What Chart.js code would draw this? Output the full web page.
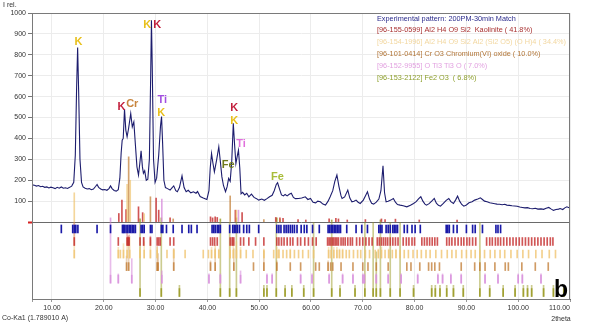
<!DOCTYPE html>
<html><head><meta charset="utf-8">
<script src="https://cdn.jsdelivr.net/npm/chart.js@4/dist/chart.umd.min.js"></script>
<style>html,body{margin:0;padding:0;background:#fff;}#wrap{width:589px;height:326px;position:relative;}</style>
</head><body><div id="wrap"><canvas id="c" width="589" height="326"></canvas></div>
<script>
// ---- Experimental pattern ----
const twoTheta = [6.15,6.6,7.0,7.4,7.8,8.2,8.6,9.0,9.4,9.8,10.2,10.6,11.0,11.4,11.8,12.2,12.6,13.0,13.4,13.8,14.2,14.5,14.75,14.95,15.15,15.4,15.7,16.0,16.4,16.8,17.2,17.6,18.0,18.4,18.7,19.0,19.4,19.8,20.2,20.6,21.0,21.3,21.6,22.0,22.4,22.8,23.1,23.35,23.55,23.75,24.0,24.25,24.5,24.8,25.2,25.5,25.8,26.1,26.4,26.7,26.95,27.2,27.45,27.65,27.9,28.2,28.5,28.8,29.05,29.2,29.35,29.6,29.9,30.2,30.6,30.95,31.15,31.35,31.6,31.9,32.3,32.8,33.2,33.5,33.9,34.2,34.6,35.1,35.5,35.9,36.3,36.8,37.3,37.8,38.1,38.6,39.2,39.9,40.3,40.55,40.8,41.05,41.35,41.8,42.2,42.5,42.8,43.1,43.5,43.8,44.1,44.4,44.7,45.0,45.25,45.5,45.8,46.0,46.25,46.5,46.8,47.2,47.6,48.0,48.5,49.0,49.5,49.9,50.5,51.0,51.5,52.0,52.5,52.9,53.3,53.55,53.9,54.3,54.7,55.0,55.4,55.8,56.2,56.6,57.0,57.6,58.2,58.9,59.4,59.9,60.4,60.9,61.3,61.8,62.3,62.8,63.3,63.7,64.2,64.6,65.0,65.4,65.8,66.0,66.5,67.1,67.5,67.9,68.3,68.7,69.1,69.5,70.1,70.5,70.9,71.3,71.7,72.1,72.6,73.1,73.5,73.9,74.2,74.5,74.9,75.4,75.9,76.3,76.7,77.2,77.8,78.5,79.2,79.8,80.3,80.8,81.2,81.6,82.0,82.3,82.8,83.3,83.8,84.2,84.6,85.0,85.5,86.1,86.6,87.0,87.5,87.9,88.3,88.7,89.1,89.5,90.0,90.5,91.1,91.6,92.2,92.7,93.1,93.5,94.0,94.5,95.0,95.5,95.9,96.4,96.9,97.4,97.8,98.3,98.8,99.3,99.8,100.3,100.8,101.3,101.8,102.3,102.8,103.3,103.8,104.4,104.9,105.4,105.9,106.4,106.8,107.3,107.8,108.1,108.6,109.0,109.4,109.8,110.0];
const intensity = [178,176,172,175,169,171,166,168,163,167,164,160,166,162,168,162,164,161,166,172,190,320,640,835,620,300,190,168,162,158,160,155,158,170,180,166,158,154,156,152,160,173,160,151,148,155,210,330,392,400,540,440,408,450,519,455,479,370,264,225,280,341,265,233,245,200,205,300,700,965,750,300,190,210,320,460,505,380,200,165,160,153,165,173,150,145,165,221,165,145,152,140,145,138,146,122,115,108,150,260,328,285,240,300,360,290,216,175,145,168,209,195,290,472,370,280,320,344,260,135,142,130,138,121,134,118,112,105,110,104,112,121,128,150,180,188,160,130,125,132,125,133,138,118,112,113,115,121,108,113,95,92,100,97,86,81,100,121,150,195,225,170,125,113,120,153,115,97,100,105,95,89,105,125,145,110,90,86,95,110,150,269,140,97,100,105,113,95,84,81,78,73,80,89,98,112,121,100,86,81,88,100,113,90,80,76,88,104,113,98,89,105,124,100,84,76,82,92,97,105,110,116,108,100,97,92,90,88,86,85,83,85,81,80,78,77,76,72,70,68,69,65,64,66,62,63,61,66,70,62,56,60,62,65,60,68,73,69,72];

// ---- Peak markers per phase (2theta) and relative intensity (%) ----
const expPeaks = [11.8,14.0,14.3,14.6,15.0,18.7,21.3,23.6,23.8,24.0,24.3,24.6,24.9,25.2,25.5,25.8,26.1,27.2,27.5,27.8,29.0,29.3,31.1,31.4,32.1,33.4,35.1,36.4,36.9,38.0,40.9,41.2,41.5,41.9,42.2,42.5,44.3,44.9,45.2,45.5,45.8,46.2,47.0,47.6,48.1,49.9,53.4,53.8,54.2,54.8,55.2,55.6,56.0,56.4,56.8,57.3,58.1,58.7,59.2,60.3,61.6,63.3,63.6,63.9,64.2,64.5,64.8,65.1,65.4,65.7,66.9,68.7,69.8,70.9,73.1,73.4,73.7,74.5,74.9,75.3,75.8,76.1,76.4,76.7,78.0,78.6,79.5,80.1,81.1,86.1,86.4,86.7,87.5,88.2,90.0,91.2,91.7,93.1,95.7,96.1,96.6];

const kaoPeaks = [14.3,22.8,24.5,24.7,24.9,27.0,27.7,29.0,30.3,30.6,30.9,32.8,33.5,40.6,41.0,41.4,41.9,44.4,44.8,45.1,46.4,47.0,48.0,49.3,50.9,53.4,53.8,54.3,54.8,55.4,56.0,56.5,57.4,58.0,58.8,59.5,60.3,61.0,63.2,63.5,63.8,64.1,64.4,64.7,65.0,65.3,65.8,66.2,66.6,67.1,67.6,68.0,68.8,69.4,70.0,70.6,71.2,71.8,72.8,73.2,73.6,74.0,74.4,74.8,75.3,75.8,76.3,76.8,77.8,78.4,78.9,79.5,80.0,81.4,81.9,82.4,82.9,83.4,83.9,84.4,86.2,86.7,87.2,87.8,88.4,89.0,89.5,90.1,90.6,91.2,91.8,93.9,94.5,95.0,95.6,96.1,96.6,97.2,97.8,98.4,99.0,99.6,100.2,100.8,101.4,102.0,102.6,103.2,103.8,104.4,105.0,105.6,106.2,106.7];
const kaoInt = [100,20,60,40,45,30,35,40,30,25,20,20,25,30,25,20,25,30,35,25,20,15,20,15,20,25,20,15,20,15,20,15,15,15,15,15,15,15,20,20,25,20,20,25,20,20,15,15,15,15,15,15,15,15,15,15,15,15,15,15,20,15,15,15,15,15,15,15,15,15,15,15,15,15,15,15,15,15,15,15,15,15,15,15,15,15,15,15,15,15,15,15,15,15,15,15,15,15,15,15,15,15,15,15,15,15,15,15,15,15,15,15,15,15];

const kao2Peaks = [14.3,22.8,23.2,23.8,24.5,25.0,27.0,27.8,29.0,30.3,32.2,33.5,35.7,39.2,40.2,40.8,41.5,42.2,44.4,45.0,45.6,46.4,47.5,48.8,50.9,52.8,53.4,53.8,54.6,55.3,56.0,56.8,57.6,58.4,59.5,60.5,63.4,63.9,64.4,65.0,65.5,66.1,66.8,67.4,68.2,69.0,69.6,70.5,71.3,72.4,73.0,73.6,74.3,75.0,75.7,76.4,77.2,78.0,78.8,79.7,80.5,81.3,82.2,83.0,84.1,85.2,86.3,87.2,88.0,89.1,90.0,90.9,91.7,92.6,93.5,94.6,95.5,96.5,97.4,98.6,99.8,100.9,102.0,103.4,104.6,106.0,107.2];
const kao2Int = [100,30,20,40,55,60,30,45,50,30,20,25,15,10,15,30,35,25,40,50,45,30,20,15,25,15,30,25,20,20,25,20,15,20,15,15,30,35,30,30,25,25,20,20,20,15,20,20,15,20,25,30,20,25,20,25,20,15,20,15,15,15,15,15,15,15,15,15,15,15,15,15,15,15,15,15,15,15,15,15,15,15,15,15,15,15,15];

const crPeaks = [24.4,24.8,30.3,30.5,33.5,40.6,41.5,45.1,48.9,50.9,53.4,56.0,58.0,60.9,61.6,63.3,63.8,64.2,65.8,68.1,70.0,71.0,72.6,74.9,78.5,79.3,81.0,82.7,83.3,83.9,84.8,89.0,91.6,92.6,93.6,95.5,97.5,98.1,100.7,103.3,105.8];
const crInt = [30,60,50,35,45,20,45,45,10,40,20,15,15,15,15,20,15,15,15,15,15,15,15,15,15,15,15,15,15,15,15,15,15,15,15,15,15,15,15,15,15];

const tiPeaks = [21.3,22.8,25.4,31.2,40.3,42.5,46.4,51.5,52.5,58.0,60.2,63.5,66.1,68.1,70.0,70.3,72.6,74.9,77.4,80.6,84.5,85.4,87.0,89.0,93.6,96.1,100.0,100.8,104.4];
const tiInt = [100,15,40,20,15,15,20,15,15,15,15,15,15,15,15,15,15,15,15,15,15,15,15,15,15,15,15,15,15];

const fePeaks = [27.0,31.1,34.6,42.5,44.3,45.6,50.9,51.5,53.3,55.0,56.3,58.6,60.5,64.0,65.6,68.5,70.4,72.0,72.6,73.4,75.3,77.2,79.8,83.3,84.0,84.9,86.2,87.5,89.4,92.6,94.5,97.1,99.4,101.0,101.8,102.6,104.9,106.8,108.8];
const feInt = [100,100,15,100,100,100,15,15,100,15,15,15,100,100,15,15,100,100,60,100,100,100,15,15,15,15,15,15,15,100,15,15,15,15,15,15,15,15,15];

// ---- Calculated sticks above the zero line ----
const kaoStickPos = [22.9,23.5,24.3,26.7,27.5,30.1,30.6,32.8,40.6,41.0,41.5,41.9,45.4,46.7,53.2,54.0,54.6,57.5,59.0,63.5,64.8,65.3,67.0,70.5,73.6,74.3,76.3,80.9,88.2];
const kaoStickInt = [41,105,60,73,45,115,57,20,25,20,25,22,57,45,22,20,18,12,10,15,18,15,10,12,15,12,14,10,10];
const crStickPos = [24.8,29.0,33.4,44.4,50.9,54.0];
const crStickInt = [312,121,15,125,12,12];
const kao2StickPos = [14.3,24.5,25.1,27.8,45.6];
const kao2StickInt = [140,180,200,40,57];
const tiStickPos = [21.3,31.2,46.0];
const tiStickInt = [20,110,57];
const feStickPos = [27.0,31.1,42.5,45.6,53.4,64.0,73.4];
const feStickInt = [15,20,15,20,20,10,10];

// ---- Axis ticks ----
const xTickValues = [10,20,30,40,50,60,70,80,90,100,110];
const yTickValues = [0,100,200,300,400,500,600,700,800,900,1000];

// ---- Legend & labels ----
const legendLines = [
  'Experimental pattern: 200PM-30min Match',
  '[96-155-0599] Al2 H4 O9 Si2  Kaolinite ( 41.8%)',
  '[96-154-1996] Al2 H4 O9 Si2 Al2 (Si2 O5) (O H)4 ( 34.4%)',
  '[96-101-0414] Cr O3 Chromium(VI) oxide ( 10.0%)',
  '[96-152-9955] O Ti3 Ti3 O ( 7.0%)',
  '[96-153-2122] Fe2 O3  ( 6.8%)'
];
const peakLabels = [
  ['K',15.1,860,'kgold'],['K',23.4,549,'kred'],['Cr',25.5,564,'cr'],
  ['K',28.4,941,'kgold'],['K',30.3,941,'kred'],['Ti',31.3,583,'ti'],['K',31.1,521,'kgold'],
  ['Fe',44.0,272,'fe'],['K',45.2,545,'kred'],['K',45.2,483,'kgold'],['Ti',46.5,373,'ti2'],['Fe',53.5,215,'fe2']
];

// ---- Styles ----
const FONT = '"Liberation Sans", Arial, sans-serif';
const C = {
  curve:'#1d1d6e', exp:'#1a1aa8', kao:'#c42a2a', kao2:'#f0c470', cr:'#c07a30', ti:'#d890dc', fe:'#9a9a22',
  kgold:'#e8c01c', kred:'#c21f3c', crl:'#c8843c', til:'#a24fe0', ti2l:'#e070dc', fel:'#6f7a1e', fe2l:'#a8bc3a'
};
const labelColor = {kgold:C.kgold,kred:C.kred,cr:C.crl,ti:C.til,ti2:C.ti2l,fe:C.fel,fe2:C.fe2l};
const legendColors = ['#2b2b8c','#a83030','#f2d7a0','#b27638','#e2a2e0','#8ea02e'];
const rowBottoms = [-52,-112,-172,-232,-292,-356];
const TICK = 38;
const YMIN = -368;

function tickSet(pos, row, color, order){
  return {type:'bar', label:'t', data: pos.map(p=>({x:p, y:[rowBottoms[row], rowBottoms[row]+TICK]})),
    backgroundColor: color, barThickness:1, grouped:false, order: order};
}
function lineSet(pos, rel, row, color, order){
  const d=[];
  pos.forEach((p,i)=>{ const h = rel[i]/100*(-rowBottoms[row]); if(h>TICK) d.push({x:p, y:[rowBottoms[row], rowBottoms[row]+h]}); });
  return {type:'bar', label:'l', data:d, backgroundColor: color, barThickness:1, grouped:false, order: order};
}
function stickSet(pos, val, color, order){
  return {type:'bar', label:'s', data: pos.map((p,i)=>({x:p, y:[0, val[i]]})), backgroundColor: color, barThickness:1, grouped:false, order: order};
}
function rgba(hex,a){const n=parseInt(hex.slice(1),16);return `rgba(${n>>16},${(n>>8)&255},${n&255},${a})`;}

const datasets = [
  {type:'line', label:'curve', data: twoTheta.map((x,i)=>({x, y:intensity[i]})), borderColor:C.curve, borderWidth:1.1, pointRadius:0, tension:0, order:0},
  lineSet(kao2Peaks,kao2Int,2,rgba(C.kao2,0.45),9),
  lineSet(crPeaks,crInt,3,rgba(C.cr,0.35),9),
  lineSet(tiPeaks,tiInt,4,rgba(C.ti,0.6),9),
  lineSet(fePeaks,feInt,5,rgba(C.fe,0.5),9),
  lineSet(kaoPeaks,kaoInt,1,rgba(C.kao,0.35),9),
  tickSet(expPeaks,0,C.exp,5),
  tickSet(kaoPeaks,1,rgba(C.kao,0.8),5),
  tickSet(kao2Peaks,2,rgba(C.kao2,0.8),5),
  tickSet(crPeaks,3,rgba(C.cr,0.75),5),
  tickSet(tiPeaks,4,rgba(C.ti,0.8),5),
  tickSet(fePeaks,5,rgba(C.fe,0.85),5),
  stickSet(kao2StickPos,kao2StickInt,rgba(C.kao2,0.7),3),
  stickSet(crStickPos,crStickInt,rgba(C.cr,0.7),3),
  stickSet(kaoStickPos,kaoStickInt,rgba(C.kao,0.8),3),
  stickSet(tiStickPos,tiStickInt,rgba(C.ti,0.8),3),
  stickSet(feStickPos,feStickInt,rgba(C.fe,0.8),3)
];

const framePlugin = {
  id:'frame',
  afterDatasetsDraw(chart){
    const {ctx, chartArea:a} = chart;
    ctx.save(); ctx.strokeStyle='#7a7a7a'; ctx.lineWidth=1;
    ctx.strokeRect(a.left+0.5, a.top+0.5, a.right-a.left-1, a.bottom-a.top);
    ctx.restore();
  },
  afterDraw(chart){
    const {ctx, scales} = chart;
    ctx.save();
    ctx.fillStyle='#333'; ctx.font='7px '+FONT; ctx.textBaseline='middle';
    ctx.textAlign='left'; ctx.fillText('I rel.', 3, 5);
    ctx.fillText('Co-Ka1 (1.789010 A)', 2, 318.5);
    ctx.textAlign='center'; ctx.fillText('2theta', 561, 319);
    // legend
    ctx.textAlign='left'; ctx.font='7.3px '+FONT;
    legendLines.forEach((t,i)=>{ ctx.fillStyle=legendColors[i]; ctx.fillText(t, 377, 18.5+i*11.9); });
    // peak labels
    ctx.font='bold 11px '+FONT; ctx.textAlign='center';
    peakLabels.forEach(([t,x,y,c])=>{ ctx.fillStyle=labelColor[c]; ctx.fillText(t, scales.x.getPixelForValue(x), scales.y.getPixelForValue(y)); });
    // panel letter
    ctx.fillStyle='#000'; ctx.font='bold 23px '+FONT; ctx.textBaseline='alphabetic';
    ctx.fillText('b', 561, 296.5);
    ctx.restore();
  }
};

new Chart(document.getElementById('c'), {
  type:'bar',
  data:{datasets},
  options:{
    responsive:false, animation:false, devicePixelRatio:1,
    layout:{padding:{top:13,right:19,left:0,bottom:0}},
    plugins:{legend:{display:false}, tooltip:{enabled:false}},
    scales:{
      x:{type:'linear', min:6.14, max:110, offset:false,
        afterBuildTicks(s){ s.ticks=[{value:6.14}].concat(xTickValues.map(v=>({value:v}))); },
        afterFit(s){ s.height=27; },
        grid:{offset:false, color:c=>c.tick && c.tick.value<9?'rgba(0,0,0,0)':'#ececec', tickLength:3, tickColor:'#999'},
        border:{color:'#666'},
        ticks:{align:'inner', padding:2, maxRotation:0, autoSkip:false, color:'#333', font:{family:FONT,size:7},
          callback:v=> v<9 ? '' : Number(v).toFixed(2)}
      },
      y:{type:'linear', min:YMIN, max:1000,
        afterBuildTicks(s){ s.ticks=yTickValues.map(v=>({value:v})); },
        afterFit(s){ s.width=32; },
        grid:{color:c=>c.tick && c.tick.value===0?'#6a6a6a':'#ececec', tickLength:4,
          tickColor:c=>c.tick && c.tick.value===0?'#d42020':'#777', tickWidth:c=>c.tick && c.tick.value===0?2:1},
        border:{color:'#666'},
        ticks:{padding:2, autoSkip:false, color:'#333', font:{family:FONT,size:7}, callback:v=> v===0?'':String(v)}
      }
    }
  },
  plugins:[framePlugin]
});
</script></body></html>
